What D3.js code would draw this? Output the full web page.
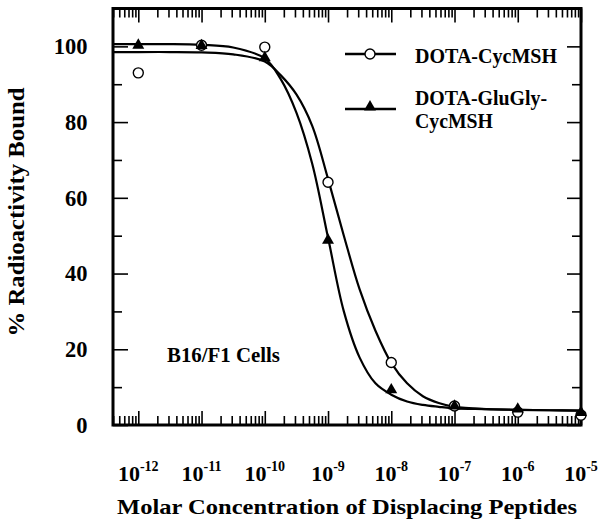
<!DOCTYPE html>
<html>
<head>
<meta charset="utf-8">
<script src="https://cdn.jsdelivr.net/npm/d3@7"></script>
<style>
  html, body { margin: 0; padding: 0; background: #fff; }
  svg { display: block; }
  text { font-family: "Liberation Serif", "Times New Roman", serif; font-weight: bold; fill: #000; }
</style>
</head>
<body>
<script>
// ---- Data ----
const logConcentrations = [-12, -11, -10, -9, -8, -7, -6, -5];      // log10 molar
const cycMSH = [93.0, 100.3, 99.8, 64.1, 16.5, 5.0, 3.4, 2.6];       // open circles
const gluGly = [100.3, 100.2, 97.0, 48.8, 9.3, 5.0, 4.2, 3.3];       // filled triangles

// fitted curves
const fitLogConc = [-12.4, -12, -11.5, -11, -10.5, -10, -9.75, -9.5, -9.25, -9, -8.75, -8.5, -8.25, -8, -7.75, -7.5, -7.25, -7, -6.5, -6, -5.5, -5];
const fitCycMSH = [98.5, 98.5, 98.5, 98.4, 97.9, 96.0, 92.4, 87.3, 79.0, 65.0, 50.0, 35.8, 24.9, 16.4, 11.0, 7.6, 5.8, 4.8, 4.2, 4.0, 3.9, 3.8];
const fitGluGly = [100.6, 100.6, 100.6, 100.4, 99.7, 96.8, 91.4, 82.5, 69.0, 49.5, 30.0, 17.8, 11.0, 8.0, 6.2, 5.3, 4.8, 4.4, 4.2, 4.0, 3.9, 3.8];

const xTickExponents = ["-12", "-11", "-10", "-9", "-8", "-7", "-6", "-5"];
const yMajorTicks = [0, 20, 40, 60, 80, 100];
const yMinorTicks = [10, 30, 50, 70, 90];
const seriesNames = ["DOTA-CycMSH", "DOTA-GluGly-", "CycMSH"];
const annotation = "B16/F1 Cells";
const xTitle = "Molar Concentration of Displacing Peptides";
const yTitle = "% Radioactivity Bound";

// ---- Layout ----
const W = 600, H = 526;
const L = 113, R = 581, T = 8.5, B = 425;

const svg = d3.select("body").append("svg").attr("width", W).attr("height", H);

const x = d3.scaleLog().domain([Math.pow(10, -12.4), 1e-5]).range([L, R]);
const y = d3.scaleLinear().domain([0, 110]).range([B, T]);

// ---- Ticks (inward on all four sides) ----
const decades = logConcentrations.map(e => Math.pow(10, e));
const minorX = x.ticks().filter(v => Math.abs(Math.log10(v) - Math.round(Math.log10(v))) > 1e-6);

function styleAxis(g) {
  g.select(".domain").remove();
  g.selectAll(".tick line").attr("stroke", "#000").attr("stroke-width", 1.6);
  g.selectAll(".tick text").remove();
}
svg.append("g").attr("transform", `translate(0,${B})`)
  .call(d3.axisBottom(x).tickValues(decades).tickSize(-14).tickFormat("")).call(styleAxis);
svg.append("g").attr("transform", `translate(0,${B})`)
  .call(d3.axisBottom(x).tickValues(minorX).tickSize(-9).tickFormat("")).call(styleAxis);
svg.append("g").attr("transform", `translate(0,${T})`)
  .call(d3.axisTop(x).tickValues(decades).tickSize(-14).tickFormat("")).call(styleAxis);
svg.append("g").attr("transform", `translate(0,${T})`)
  .call(d3.axisTop(x).tickValues(minorX).tickSize(-9).tickFormat("")).call(styleAxis);
svg.append("g").attr("transform", `translate(${L},0)`)
  .call(d3.axisLeft(y).tickValues(yMajorTicks).tickSize(-15).tickFormat("")).call(styleAxis);
svg.append("g").attr("transform", `translate(${L},0)`)
  .call(d3.axisLeft(y).tickValues(yMinorTicks).tickSize(-9).tickFormat("")).call(styleAxis);
svg.append("g").attr("transform", `translate(${R},0)`)
  .call(d3.axisRight(y).tickValues(yMajorTicks).tickSize(-14).tickFormat("")).call(styleAxis);
svg.append("g").attr("transform", `translate(${R},0)`)
  .call(d3.axisRight(y).tickValues(yMinorTicks).tickSize(-9).tickFormat("")).call(styleAxis);

// ---- Frame ----
svg.append("rect").attr("x", L).attr("y", T).attr("width", R - L).attr("height", B - T)
  .attr("fill", "none").attr("stroke", "#000").attr("stroke-width", 3);

// ---- Tick labels ----
svg.append("g").selectAll("text").data(yMajorTicks).join("text")
  .attr("x", 87.5).attr("y", d => y(d) + 7.8)
  .attr("text-anchor", "end").attr("font-size", 22.5)
  .text(d => d);

const xl = svg.append("g").selectAll("text").data(logConcentrations).join("text")
  .attr("x", d => x(Math.pow(10, d))).attr("y", 481)
  .attr("text-anchor", "middle").attr("font-size", 22);
xl.append("tspan").text("10");
xl.append("tspan").attr("font-size", 14).attr("dy", -10).text((d, i) => xTickExponents[i]);

// ---- Axis titles ----
svg.append("text").attr("x", 347).attr("y", 514).attr("text-anchor", "middle")
  .attr("font-size", 22).attr("textLength", 460).attr("lengthAdjust", "spacingAndGlyphs").text(xTitle);
svg.append("text").attr("transform", "translate(24,212) rotate(-90)").attr("text-anchor", "middle")
  .attr("font-size", 23).attr("textLength", 249).attr("lengthAdjust", "spacingAndGlyphs").text(yTitle);

// ---- Curves ----
const line = d3.line().x(d => x(Math.pow(10, d[0]))).y(d => y(d[1])).curve(d3.curveCatmullRom.alpha(0.5));
[fitCycMSH, fitGluGly].forEach(vals => {
  svg.append("path").datum(fitLogConc.map((c, i) => [c, vals[i]]))
    .attr("d", line).attr("fill", "none").attr("stroke", "#000").attr("stroke-width", 2.2);
});

// ---- Markers ----
svg.append("g").selectAll("circle").data(logConcentrations).join("circle")
  .attr("cx", d => x(Math.pow(10, d))).attr("cy", (d, i) => y(cycMSH[i])).attr("r", 5)
  .attr("fill", "#fff").attr("stroke", "#000").attr("stroke-width", 1.4);
const tri = d3.symbol().type(d3.symbolTriangle).size(62);
svg.append("g").selectAll("path").data(logConcentrations).join("path")
  .attr("transform", (d, i) => `translate(${x(Math.pow(10, d))},${y(gluGly[i])})`)
  .attr("d", tri).attr("fill", "#000");

// ---- Legend ----
const lg = svg.append("g");
lg.append("line").attr("x1", 345).attr("x2", 396).attr("y1", 54).attr("y2", 54).attr("stroke", "#000").attr("stroke-width", 2.5);
lg.append("circle").attr("cx", 370).attr("cy", 54).attr("r", 5).attr("fill", "#fff").attr("stroke", "#000").attr("stroke-width", 1.4);
lg.append("text").attr("x", 415).attr("y", 63.3).attr("font-size", 21).attr("textLength", 142).attr("lengthAdjust", "spacingAndGlyphs").text(seriesNames[0]);
lg.append("line").attr("x1", 345).attr("x2", 396).attr("y1", 109).attr("y2", 109).attr("stroke", "#000").attr("stroke-width", 2.5);
lg.append("path").attr("transform", "translate(370,107)").attr("d", tri).attr("fill", "#000");
lg.append("text").attr("x", 415).attr("y", 105).attr("font-size", 21).attr("textLength", 132).attr("lengthAdjust", "spacingAndGlyphs").text(seriesNames[1]);
lg.append("text").attr("x", 415).attr("y", 128.3).attr("font-size", 21).attr("textLength", 78).attr("lengthAdjust", "spacingAndGlyphs").text(seriesNames[2]);

// ---- Annotation ----
svg.append("text").attr("x", 167).attr("y", 361.7).attr("font-size", 20.5)
  .attr("textLength", 113).attr("lengthAdjust", "spacingAndGlyphs").text(annotation);
</script>
</body>
</html>
